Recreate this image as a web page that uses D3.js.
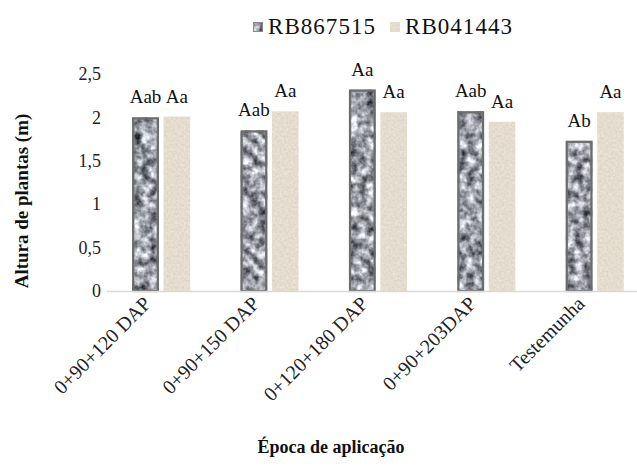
<!DOCTYPE html>
<html>
<head>
<meta charset="utf-8">
<script src="https://cdn.jsdelivr.net/npm/d3@7"></script>
<style>
  body { margin: 0; background: #fff; }
  svg { display: block; }
  svg text { font-family: "Liberation Serif", "Times New Roman", serif; }
</style>
</head>
<body>
<div id="main"></div>
<script>
var width = 637;
var height = 466;
var margin = {t: 74, r: -12, b: 175, l: 107};
var serif = '"Liberation Serif", "Times New Roman", serif';

// data
var categories = ['0+90+120 DAP', '0+90+150 DAP', '0+120+180 DAP', '0+90+203DAP', 'Testemunha'];
var series = ['RB867515', 'RB041443'];
var rb867515 = [2.00, 1.85, 2.32, 2.07, 1.73];
var rb041443 = [2.01, 2.07, 2.06, 1.95, 2.06];
var labels867515 = ['Aab', 'Aab', 'Aa', 'Aab', 'Ab'];
var labels041443 = ['Aa', 'Aa', 'Aa', 'Aa', 'Aa'];
var yTicks = [0, 0.5, 1, 1.5, 2, 2.5];

var points = [];
categories.forEach(function(c, i) {
    points.push({cat: c, s: series[0], v: rb867515[i], lab: labels867515[i]});
    points.push({cat: c, s: series[1], v: rb041443[i], lab: labels041443[i]});
});

var svg = d3.select('#main').append('svg')
    .attr('width', width)
    .attr('height', height);

var defs = svg.append('defs');

// noise texture, clipped to the shape it is applied to
function textureFilter(id, freq, octaves, seed, matrix) {
    var f = defs.append('filter').attr('id', id)
        .attr('filterUnits', 'userSpaceOnUse')
        .attr('color-interpolation-filters', 'sRGB')
        .attr('x', 0).attr('y', 0).attr('width', width).attr('height', height);
    f.append('feTurbulence')
        .attr('type', 'fractalNoise')
        .attr('baseFrequency', freq)
        .attr('numOctaves', octaves)
        .attr('seed', seed)
        .attr('result', 'noise');
    f.append('feColorMatrix')
        .attr('in', 'noise')
        .attr('type', 'matrix')
        .attr('values', matrix)
        .attr('result', 'tex');
    f.append('feComposite')
        .attr('in', 'tex')
        .attr('in2', 'SourceAlpha')
        .attr('operator', 'in');
}

textureFilter('granite', 0.12, 3, 3,
    '1.3 0 0 0 -0.04  1.3 0 0 0 -0.03  1.3 0 0 0 0.0  0 0 0 0 1');
textureFilter('sand', 0.45, 1, 7,
    '0.12 0 0 0 0.834  0.12 0 0 0 0.807  0.12 0 0 0 0.75  0 0 0 0 1');

var filters = {'RB867515': 'url(#granite)', 'RB041443': 'url(#sand)'};

var x0 = d3.scaleBand()
    .domain(categories)
    .range([margin.l, width - margin.r]);

var x1 = d3.scaleBand()
    .domain(series)
    .range([-29, 29])
    .paddingInner(0.15);

function barX(d) {
    return x0(d.cat) + x0.bandwidth() / 2 + x1(d.s);
}

var yScale = d3.scaleLinear()
    .domain([0, 2.5])
    .range([height - margin.b, margin.t]);

var y0 = yScale(0);

// y axis (labels only)
var yAxis = d3.axisLeft(yScale)
    .tickValues(yTicks)
    .tickSize(0)
    .tickPadding(0)
    .tickFormat(function(d) { return String(d).replace('.', ','); });

svg.append('g')
    .attr('class', 'y axis')
    .attr('transform', 'translate(101, 0)')
    .call(yAxis)
    .attr('font-family', serif)
    .attr('font-size', 18)
    .call(function(g) { g.select('.domain').remove(); })
    .selectAll('text')
    .attr('fill', '#222');

// bars
svg.selectAll('.bar')
    .data(points)
    .enter()
    .append('rect')
    .attr('class', 'bar')
    .attr('x', barX)
    .attr('width', x1.bandwidth())
    .attr('y', function(d) { return yScale(d.v); })
    .attr('height', function(d) { return y0 - yScale(d.v); })
    .attr('fill', '#000')
    .attr('filter', function(d) { return filters[d.s]; });

// border of the granite bars
svg.selectAll('.edge')
    .data(points.filter(function(d) { return d.s === series[0]; }))
    .enter()
    .append('rect')
    .attr('class', 'edge')
    .attr('x', function(d) { return barX(d) + 1; })
    .attr('width', x1.bandwidth() - 2)
    .attr('y', function(d) { return yScale(d.v) + 1; })
    .attr('height', function(d) { return y0 - yScale(d.v) - 1; })
    .attr('fill', 'none')
    .attr('stroke', '#6c6c6c')
    .attr('stroke-width', 2.2);

svg.selectAll('.lab')
    .data(points)
    .enter()
    .append('text')
    .attr('class', 'lab')
    .attr('x', function(d) { return barX(d) + x1.bandwidth() / 2; })
    .attr('y', function(d) { return yScale(d.v) - 14; })
    .attr('text-anchor', 'middle')
    .attr('font-family', serif)
    .attr('font-size', 19)
    .attr('fill', '#111')
    .text(function(d) { return d.lab; });

// x axis line
svg.append('line')
    .attr('x1', margin.l)
    .attr('x2', width)
    .attr('y1', y0 + 0.5)
    .attr('y2', y0 + 0.5)
    .attr('stroke', '#d9d9d9')
    .attr('stroke-width', 1.5);

// x tick labels, rotated
svg.append('g')
    .attr('class', 'x labels')
    .selectAll('text')
    .data(categories)
    .enter()
    .append('text')
    .attr('text-anchor', 'end')
    .attr('font-family', serif)
    .attr('font-size', 20)
    .attr('fill', '#222')
    .attr('transform', function(d) {
        return 'translate(' + (x0(d) + x0.bandwidth() / 2 - 9) + ',' + (y0 + 14) + ') rotate(-45)';
    })
    .text(function(d) { return d; });

// axis titles
svg.append('text')
    .attr('x', 331)
    .attr('y', 453)
    .attr('text-anchor', 'middle')
    .attr('font-family', serif)
    .attr('font-size', 18)
    .attr('font-weight', 'bold')
    .attr('fill', '#111')
    .text('Época de aplicação');

svg.append('text')
    .attr('transform', 'translate(28, 201) rotate(-90)')
    .attr('text-anchor', 'middle')
    .attr('font-family', serif)
    .attr('font-size', 19)
    .attr('font-weight', 'bold')
    .attr('fill', '#111')
    .text('Altura de plantas (m)');

// legend
var legend = svg.append('g').attr('class', 'legend');
var legendX = [253, 390];
series.forEach(function(s, i) {
    legend.append('rect')
        .attr('x', legendX[i])
        .attr('y', 22)
        .attr('width', 10)
        .attr('height', 10)
        .attr('fill', '#000')
        .attr('filter', filters[s]);
    if (i === 0) {
        legend.append('rect')
            .attr('x', legendX[i] + 0.5)
            .attr('y', 22.5)
            .attr('width', 9)
            .attr('height', 9)
            .attr('fill', 'none')
            .attr('stroke', '#8a8a8a');
    }
    legend.append('text')
        .attr('x', legendX[i] + 15)
        .attr('y', 34)
        .attr('font-family', serif)
        .attr('font-size', 23)
        .attr('textLength', 107)
        .attr('lengthAdjust', 'spacing')
        .attr('fill', '#111')
        .text(s);
});
</script>
</body>
</html>
